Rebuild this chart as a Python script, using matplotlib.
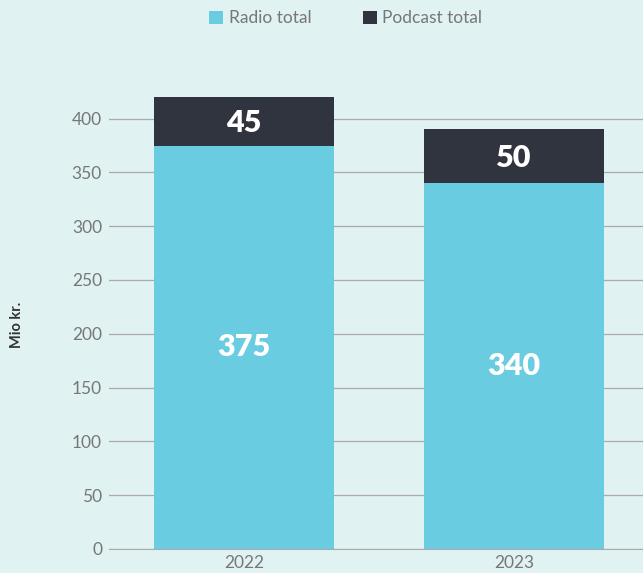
import matplotlib.pyplot as plt

years = ["2022", "2023"]
radio = [375, 340]
podcast = [45, 50]

bg = "#e0f2f2"
radio_col = "#6acce1"
pod_col = "#30343f"

plt.rcParams["font.family"] = ["Lato", "DejaVu Sans"]

fig = plt.figure(figsize=(6.43, 5.73), dpi=100, facecolor=bg)
ax = fig.add_axes([0.1695, 0.0419, 0.8305, 0.845], facecolor=bg)

x = list(range(len(years)))
ax.bar(x, radio, width=0.667, color=radio_col, label="Radio total", zorder=3)
ax.bar(x, podcast, width=0.667, bottom=radio, color=pod_col, label="Podcast total", zorder=3)

# values inside the bars
for i in x:
    ax.text(i, radio[i] / 2, str(radio[i]), ha="center", va="center",
            color="white", fontsize=22, fontweight="heavy", zorder=4)
    ax.text(i, radio[i] + podcast[i] / 2 - 2, str(podcast[i]), ha="center", va="center",
            color="white", fontsize=22, fontweight="heavy", zorder=4)

ax.set_xlim(-0.5, 1.478)
ax.set_ylim(0, 450)
ax.set_yticks(range(0, 401, 50))
ax.set_xticks(x)
ax.set_xticklabels(years)
ax.tick_params(axis="both", length=0, labelsize=12.5, labelcolor="#777777")
ax.tick_params(axis="y", pad=5)
ax.tick_params(axis="x", pad=4)
ax.grid(axis="y", color="#aaaaaa", linewidth=0.9, zorder=0)
for s in ["top", "right", "left"]:
    ax.spines[s].set_visible(False)
ax.spines["bottom"].set_color("#aaaaaa")
ax.spines["bottom"].set_zorder(5)

fig.text(0.026, 0.433, "Mio kr.", rotation=90, ha="center", va="center",
         fontsize=10.5, color="#333333", fontweight="bold")

fig.legend(loc="center", bbox_to_anchor=(0.538, 0.968), ncol=2, frameon=False,
           fontsize=12.5, labelcolor="#777777", handlelength=0.8, handleheight=0.8,
           handletextpad=0.3, columnspacing=3.0)

fig.savefig("out.png", dpi=100, facecolor=bg)
